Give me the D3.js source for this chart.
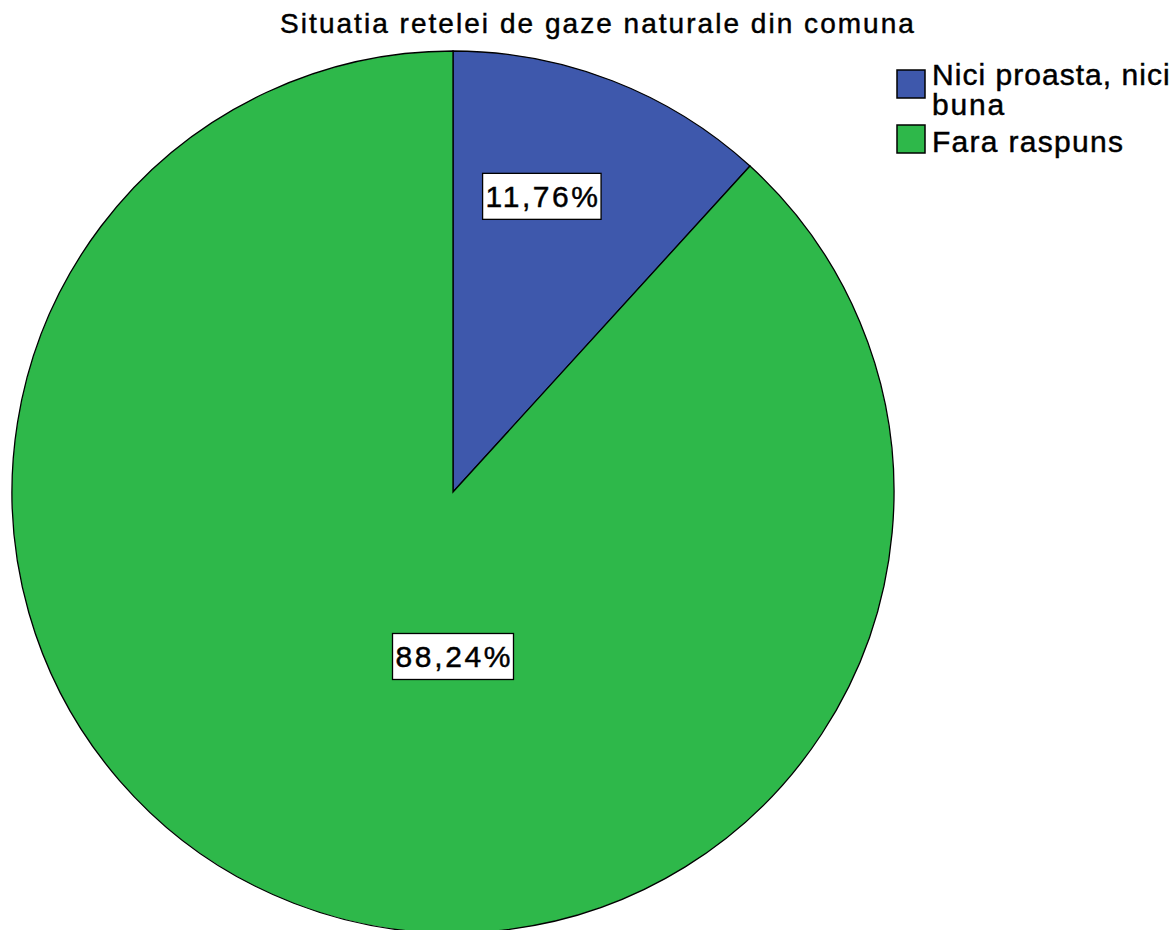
<!DOCTYPE html>
<html>
<head>
<meta charset="utf-8">
<script src="https://cdn.jsdelivr.net/npm/d3@7"></script>
<style>
  body { margin: 0; background: #fff; }
  text { font-family: "Liberation Sans", Arial, sans-serif; fill: #000; stroke: #000; stroke-width: 0.45px; }
</style>
</head>
<body>
<script>
// chart data
var categories = ["Nici proasta, nici buna", "Fara raspuns"];
var values = [11.76, 88.24];
var labels = ["11,76%", "88,24%"];
var colors = ["#3e58ac", "#2eb84a"];
var legendLines = [["Nici proasta, nici", "buna"], ["Fara raspuns"]];

var w = 1175, h = 930;
var cx = 453, cy = 492, r = 441;

// stretch text a bit, the reference font is spaced wider
function widen(sel, k){
    sel.each(function(){
        var len = this.getComputedTextLength();
        d3.select(this).attr("textLength", len * k).attr("lengthAdjust", "spacing");
    });
}

var svg = d3.select("body").append("svg")
    .attr("width", w)
    .attr("height", h);

// title
svg.append("text")
    .attr("x", 597)
    .attr("y", 33)
    .attr("text-anchor", "middle")
    .style("font-size", "28px")
    .text("Situatia retelei de gaze naturale din comuna")
    .call(widen, 1.16);

var pie = d3.pie().sort(null).value(function(d){ return d; });
var arcs = pie(values);
var arc = d3.arc().innerRadius(0).outerRadius(r);

var g = svg.append("g").attr("transform", "translate(" + cx + "," + cy + ")");

g.selectAll("path.slice")
    .data(arcs)
    .enter().append("path")
    .attr("class", "slice")
    .attr("d", arc)
    .style("fill", function(d, i){ return colors[i]; })
    .style("stroke", "#000")
    .style("stroke-width", 1.3);

// label placement: fraction of radius along a direction (SPSS puts the
// big slice label straight below the centre)
var labelAngle = [function(d){ return (d.startAngle + d.endAngle) / 2 * 0.79; }, function(){ return Math.PI; }];
var labelDist = [0.70, 0.373];

var lab = g.selectAll("g.lab")
    .data(arcs)
    .enter().append("g")
    .attr("class", "lab")
    .attr("transform", function(d, i){
        var a = labelAngle[i](d), rr = r * labelDist[i];
        return "translate(" + (rr * Math.sin(a)) + "," + (-rr * Math.cos(a)) + ")";
    });

lab.each(function(d, i){
    var sel = d3.select(this);
    var t = sel.append("text")
        .attr("text-anchor", "middle")
        .attr("dy", "0.36em")
        .style("font-size", "30px")
        .text(labels[i])
        .call(widen, 1.13);
    var bb = t.node().getBBox();
    sel.insert("rect", "text")
        .attr("x", -bb.width / 2 - 3)
        .attr("y", -23)
        .attr("width", bb.width + 6)
        .attr("height", 46)
        .style("fill", "#fff")
        .style("stroke", "#000")
        .style("stroke-width", 1.3);
});

// legend
var legend = svg.append("g").attr("transform", "translate(897,70)");
var rowY = [0, 55];
categories.forEach(function(c, i){
    var row = legend.append("g").attr("transform", "translate(0," + rowY[i] + ")");
    row.append("rect")
        .attr("x", 0).attr("y", 0)
        .attr("width", 28).attr("height", 28)
        .style("fill", colors[i])
        .style("stroke", "#000")
        .style("stroke-width", 1.5);
    legendLines[i].forEach(function(line, j){
        row.append("text")
            .attr("x", 35)
            .attr("y", 15 + j * 30 - (i ? -12 : 0))
            .style("font-size", "30px")
            .text(line)
            .call(widen, 1.08);
    });
});
</script>
</body>
</html>
